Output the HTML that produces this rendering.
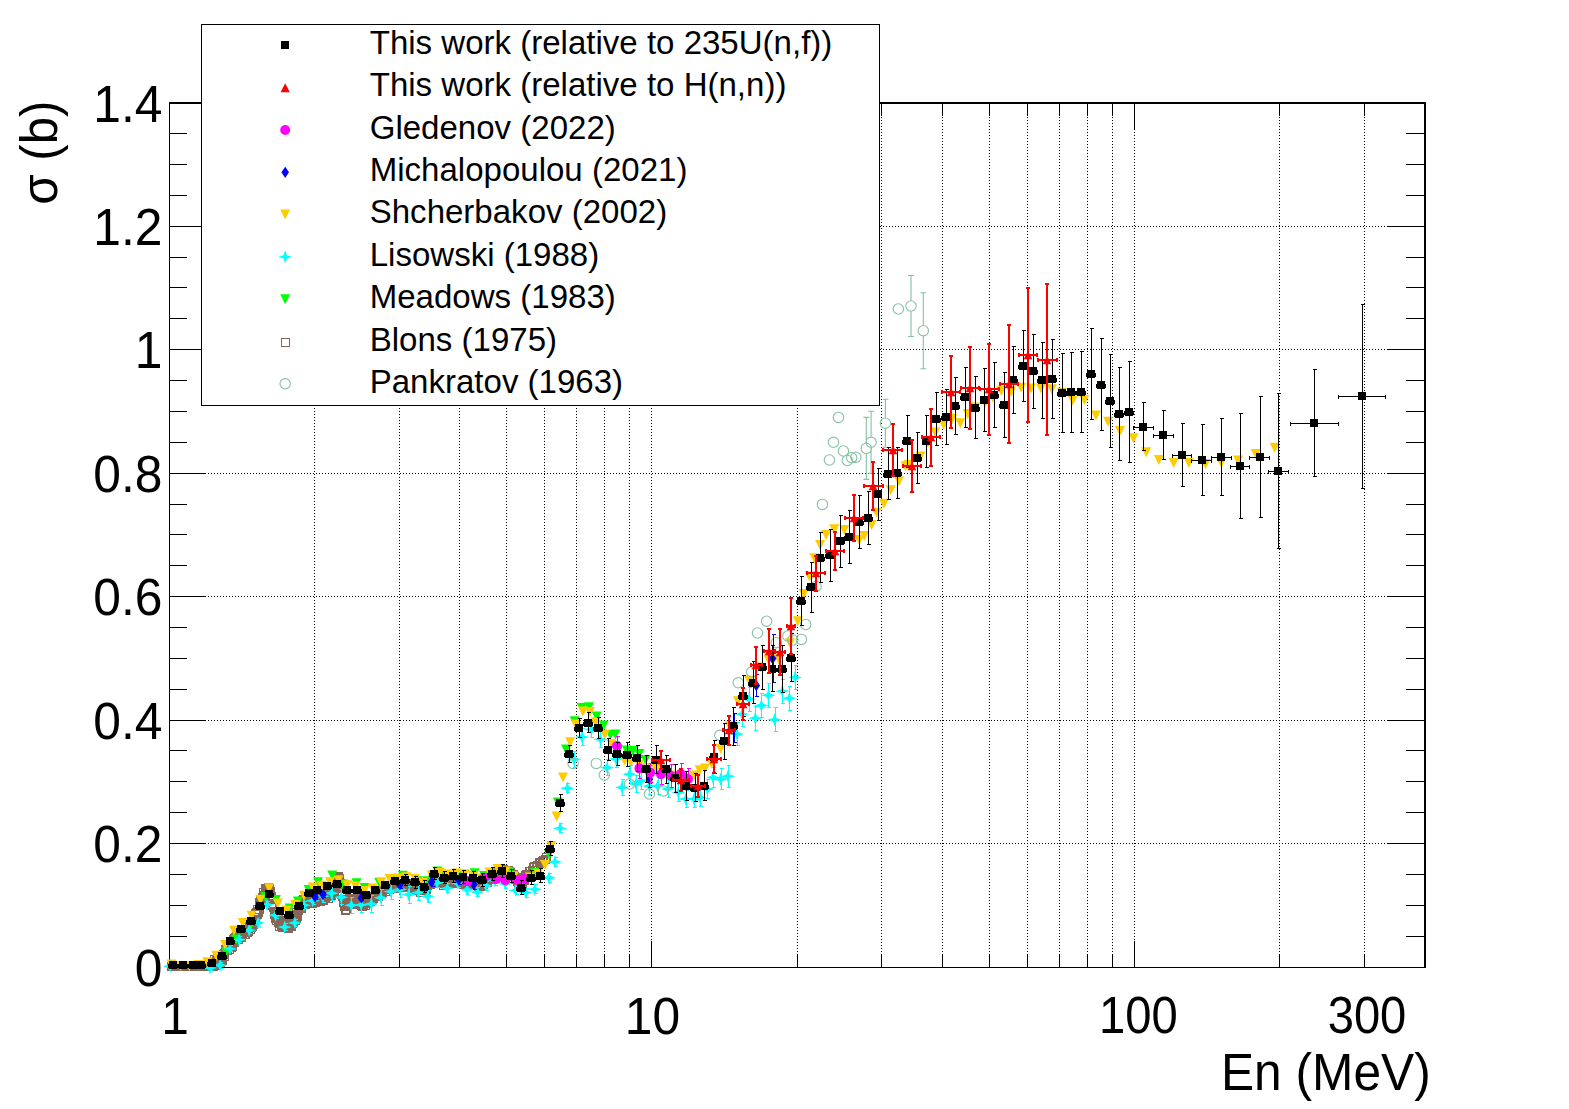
<!DOCTYPE html>
<html lang="en">
<head>
<meta charset="utf-8">
<title>Fission cross section</title>
<style>html,body{margin:0;padding:0;background:#fff}svg{display:block}</style>
</head>
<body>
<svg width="1569" height="1109" viewBox="0 0 1569 1109">
<rect width="1569" height="1109" fill="#fff"/>
<path d="M314.5 102V967M399.5 102V967M459.5 102V967M506.5 102V967M544.5 102V967M576.5 102V967M604.5 102V967M629.5 102V967M651.5 102V967M797.5 102V967M881.5 102V967M942.5 102V967M989.5 102V967M1027.5 102V967M1059.5 102V967M1087.5 102V967M1112.5 102V967M1134.5 102V967M1279.5 102V967M1364.5 102V967M169 843.5H1424M169 720.5H1424M169 596.5H1424M169 473.5H1424M169 349.5H1424M169 226.5H1424" stroke="#000" stroke-width="1" stroke-dasharray="1 2" fill="none" shape-rendering="crispEdges"/>
<path d="M169 967.5H206M1387 967.5H1426M169 936.5H187M1406 936.5H1426M169 905.5H187M1406 905.5H1426M169 874.5H187M1406 874.5H1426M169 843.5H206M1387 843.5H1426M169 812.5H187M1406 812.5H1426M169 781.5H187M1406 781.5H1426M169 750.5H187M1406 750.5H1426M169 720.5H206M1387 720.5H1426M169 689.5H187M1406 689.5H1426M169 658.5H187M1406 658.5H1426M169 627.5H187M1406 627.5H1426M169 596.5H206M1387 596.5H1426M169 565.5H187M1406 565.5H1426M169 534.5H187M1406 534.5H1426M169 504.5H187M1406 504.5H1426M169 473.5H206M1387 473.5H1426M169 442.5H187M1406 442.5H1426M169 411.5H187M1406 411.5H1426M169 380.5H187M1406 380.5H1426M169 349.5H206M1387 349.5H1426M169 318.5H187M1406 318.5H1426M169 287.5H187M1406 287.5H1426M169 257.5H187M1406 257.5H1426M169 226.5H206M1387 226.5H1426M169 195.5H187M1406 195.5H1426M169 164.5H187M1406 164.5H1426M169 133.5H187M1406 133.5H1426M169 102.5H206M1387 102.5H1426M314.5 968V954M314.5 102V116M399.5 968V954M399.5 102V116M459.5 968V954M459.5 102V116M506.5 968V954M506.5 102V116M544.5 968V954M544.5 102V116M576.5 968V954M576.5 102V116M604.5 968V954M604.5 102V116M629.5 968V954M629.5 102V116M651.5 968V941M651.5 102V129M797.5 968V954M797.5 102V116M881.5 968V954M881.5 102V116M942.5 968V954M942.5 102V116M989.5 968V954M989.5 102V116M1027.5 968V954M1027.5 102V116M1059.5 968V954M1059.5 102V116M1087.5 968V954M1087.5 102V116M1112.5 968V954M1112.5 102V116M1134.5 968V941M1134.5 102V129M1279.5 968V954M1279.5 102V116M1364.5 968V954M1364.5 102V116" stroke="#000" stroke-width="1" fill="none" shape-rendering="crispEdges"/>
<path d="M169 102H1426V968H169z M170 104V967H1424V104z" fill="#000" fill-rule="evenodd" shape-rendering="crispEdges"/>
<g>
<path d="M167.5 962.5h8v8h-8zM168.5 962.5h8v8h-8zM168.5 962.5h8v8h-8zM169.5 962.5h8v8h-8zM169.5 962.5h8v8h-8zM170.5 962.5h8v8h-8zM171.5 962.5h8v8h-8zM171.5 962.5h8v8h-8zM172.5 962.5h8v8h-8zM173.5 962.5h8v8h-8zM173.5 962.5h8v8h-8zM174.5 962.5h8v8h-8zM174.5 962.5h8v8h-8zM175.5 962.5h8v8h-8zM176.5 962.5h8v8h-8zM176.5 962.5h8v8h-8zM177.5 962.5h8v8h-8zM178.5 962.5h8v8h-8zM178.5 962.5h8v8h-8zM179.5 962.5h8v8h-8zM179.5 962.5h8v8h-8zM180.5 962.5h8v8h-8zM181.5 962.5h8v8h-8zM181.5 962.5h8v8h-8zM182.5 962.5h8v8h-8zM183.5 962.5h8v8h-8zM183.5 962.5h8v8h-8zM184.5 962.5h8v8h-8zM184.5 962.5h8v8h-8zM185.5 962.5h8v8h-8zM186.5 962.5h8v8h-8zM186.5 962.5h8v8h-8zM187.5 962.5h8v8h-8zM187.5 962.5h8v8h-8zM188.5 962.5h8v8h-8zM189.5 962.5h8v8h-8zM189.5 962.5h8v8h-8zM190.5 962.5h8v8h-8zM191.5 962.5h8v8h-8zM191.5 962.5h8v8h-8zM192.5 962.5h8v8h-8zM192.5 962.5h8v8h-8zM193.5 962.5h8v8h-8zM194.5 962.5h8v8h-8zM194.5 962.5h8v8h-8zM195.5 962.5h8v8h-8zM196.5 962.5h8v8h-8zM196.5 962.5h8v8h-8zM197.5 962.5h8v8h-8zM197.5 962.5h8v8h-8zM198.5 962.5h8v8h-8zM199.5 962.5h8v8h-8zM199.5 962.5h8v8h-8zM200.5 962.5h8v8h-8zM200.5 961.5h8v8h-8zM201.5 961.5h8v8h-8zM202.5 961.5h8v8h-8zM202.5 961.5h8v8h-8zM203.5 961.5h8v8h-8zM204.5 961.5h8v8h-8zM204.5 961.5h8v8h-8zM205.5 960.5h8v8h-8zM205.5 961.5h8v8h-8zM206.5 960.5h8v8h-8zM207.5 960.5h8v8h-8zM207.5 960.5h8v8h-8zM208.5 959.5h8v8h-8zM209.5 962.5h8v8h-8zM209.5 958.5h8v8h-8zM209.5 960.5h8v8h-8zM210.5 955.5h8v8h-8zM210.5 959.5h8v8h-8zM210.5 959.5h8v8h-8zM211.5 961.5h8v8h-8zM211.5 960.5h8v8h-8zM212.5 956.5h8v8h-8zM212.5 956.5h8v8h-8zM212.5 958.5h8v8h-8zM213.5 953.5h8v8h-8zM213.5 956.5h8v8h-8zM213.5 954.5h8v8h-8zM214.5 953.5h8v8h-8zM214.5 953.5h8v8h-8zM215.5 958.5h8v8h-8zM215.5 953.5h8v8h-8zM215.5 953.5h8v8h-8zM216.5 954.5h8v8h-8zM216.5 958.5h8v8h-8zM217.5 952.5h8v8h-8zM217.5 954.5h8v8h-8zM217.5 954.5h8v8h-8zM218.5 956.5h8v8h-8zM218.5 955.5h8v8h-8zM218.5 954.5h8v8h-8zM219.5 950.5h8v8h-8zM219.5 950.5h8v8h-8zM220.5 949.5h8v8h-8zM220.5 952.5h8v8h-8zM220.5 952.5h8v8h-8zM221.5 946.5h8v8h-8zM221.5 945.5h8v8h-8zM221.5 945.5h8v8h-8zM222.5 945.5h8v8h-8zM222.5 946.5h8v8h-8zM223.5 946.5h8v8h-8zM223.5 943.5h8v8h-8zM223.5 941.5h8v8h-8zM224.5 943.5h8v8h-8zM224.5 942.5h8v8h-8zM225.5 943.5h8v8h-8zM225.5 945.5h8v8h-8zM225.5 943.5h8v8h-8zM226.5 942.5h8v8h-8zM226.5 942.5h8v8h-8zM226.5 942.5h8v8h-8zM227.5 937.5h8v8h-8zM227.5 943.5h8v8h-8zM228.5 942.5h8v8h-8zM228.5 942.5h8v8h-8zM228.5 941.5h8v8h-8zM229.5 938.5h8v8h-8zM229.5 937.5h8v8h-8zM229.5 935.5h8v8h-8zM230.5 938.5h8v8h-8zM230.5 934.5h8v8h-8zM231.5 933.5h8v8h-8zM231.5 934.5h8v8h-8zM231.5 933.5h8v8h-8zM232.5 934.5h8v8h-8zM232.5 932.5h8v8h-8zM232.5 931.5h8v8h-8zM233.5 931.5h8v8h-8zM233.5 931.5h8v8h-8zM234.5 932.5h8v8h-8zM234.5 929.5h8v8h-8zM234.5 935.5h8v8h-8zM235.5 933.5h8v8h-8zM235.5 929.5h8v8h-8zM236.5 929.5h8v8h-8zM236.5 930.5h8v8h-8zM236.5 930.5h8v8h-8zM237.5 928.5h8v8h-8zM237.5 932.5h8v8h-8zM237.5 933.5h8v8h-8zM238.5 929.5h8v8h-8zM238.5 929.5h8v8h-8zM239.5 926.5h8v8h-8zM239.5 926.5h8v8h-8zM239.5 927.5h8v8h-8zM240.5 926.5h8v8h-8zM240.5 930.5h8v8h-8zM240.5 925.5h8v8h-8zM241.5 923.5h8v8h-8zM241.5 930.5h8v8h-8zM242.5 927.5h8v8h-8zM242.5 923.5h8v8h-8zM242.5 926.5h8v8h-8zM243.5 922.5h8v8h-8zM243.5 925.5h8v8h-8zM243.5 928.5h8v8h-8zM244.5 927.5h8v8h-8zM244.5 926.5h8v8h-8zM245.5 922.5h8v8h-8zM245.5 923.5h8v8h-8zM245.5 921.5h8v8h-8zM246.5 925.5h8v8h-8zM246.5 922.5h8v8h-8zM247.5 923.5h8v8h-8zM247.5 919.5h8v8h-8zM247.5 918.5h8v8h-8zM248.5 922.5h8v8h-8zM248.5 922.5h8v8h-8zM248.5 921.5h8v8h-8zM249.5 920.5h8v8h-8zM249.5 919.5h8v8h-8zM250.5 918.5h8v8h-8zM250.5 913.5h8v8h-8zM250.5 915.5h8v8h-8zM251.5 913.5h8v8h-8zM251.5 910.5h8v8h-8zM251.5 909.5h8v8h-8zM252.5 909.5h8v8h-8zM252.5 908.5h8v8h-8zM253.5 910.5h8v8h-8zM253.5 910.5h8v8h-8zM253.5 905.5h8v8h-8zM254.5 908.5h8v8h-8zM254.5 907.5h8v8h-8zM255.5 905.5h8v8h-8zM255.5 900.5h8v8h-8zM255.5 898.5h8v8h-8zM256.5 897.5h8v8h-8zM256.5 895.5h8v8h-8zM256.5 895.5h8v8h-8zM257.5 897.5h8v8h-8zM257.5 898.5h8v8h-8zM258.5 897.5h8v8h-8zM258.5 893.5h8v8h-8zM258.5 894.5h8v8h-8zM259.5 894.5h8v8h-8zM259.5 888.5h8v8h-8zM259.5 891.5h8v8h-8zM260.5 892.5h8v8h-8zM260.5 891.5h8v8h-8zM261.5 890.5h8v8h-8zM261.5 887.5h8v8h-8zM261.5 884.5h8v8h-8zM262.5 888.5h8v8h-8zM262.5 884.5h8v8h-8zM262.5 887.5h8v8h-8zM263.5 888.5h8v8h-8zM263.5 884.5h8v8h-8zM264.5 883.5h8v8h-8zM264.5 887.5h8v8h-8zM264.5 887.5h8v8h-8zM265.5 884.5h8v8h-8zM265.5 885.5h8v8h-8zM266.5 887.5h8v8h-8zM266.5 894.5h8v8h-8zM266.5 895.5h8v8h-8zM267.5 892.5h8v8h-8zM267.5 899.5h8v8h-8zM267.5 901.5h8v8h-8zM268.5 901.5h8v8h-8zM268.5 900.5h8v8h-8zM269.5 903.5h8v8h-8zM269.5 901.5h8v8h-8zM269.5 902.5h8v8h-8zM270.5 910.5h8v8h-8zM270.5 909.5h8v8h-8zM270.5 910.5h8v8h-8zM271.5 914.5h8v8h-8zM271.5 912.5h8v8h-8zM272.5 916.5h8v8h-8zM272.5 916.5h8v8h-8zM272.5 912.5h8v8h-8zM273.5 913.5h8v8h-8zM273.5 914.5h8v8h-8zM274.5 915.5h8v8h-8zM274.5 918.5h8v8h-8zM274.5 916.5h8v8h-8zM275.5 918.5h8v8h-8zM275.5 916.5h8v8h-8zM275.5 922.5h8v8h-8zM276.5 918.5h8v8h-8zM276.5 919.5h8v8h-8zM277.5 920.5h8v8h-8zM277.5 922.5h8v8h-8zM277.5 919.5h8v8h-8zM278.5 923.5h8v8h-8zM278.5 920.5h8v8h-8zM278.5 920.5h8v8h-8zM279.5 921.5h8v8h-8zM279.5 917.5h8v8h-8zM280.5 920.5h8v8h-8zM280.5 919.5h8v8h-8zM280.5 918.5h8v8h-8zM281.5 923.5h8v8h-8zM281.5 919.5h8v8h-8zM281.5 921.5h8v8h-8zM282.5 923.5h8v8h-8zM282.5 922.5h8v8h-8zM283.5 921.5h8v8h-8zM283.5 922.5h8v8h-8zM283.5 923.5h8v8h-8zM284.5 924.5h8v8h-8zM284.5 919.5h8v8h-8zM285.5 922.5h8v8h-8zM285.5 919.5h8v8h-8zM285.5 919.5h8v8h-8zM286.5 922.5h8v8h-8zM286.5 920.5h8v8h-8zM286.5 920.5h8v8h-8zM287.5 921.5h8v8h-8zM287.5 922.5h8v8h-8zM288.5 918.5h8v8h-8zM288.5 919.5h8v8h-8zM288.5 918.5h8v8h-8zM289.5 917.5h8v8h-8zM289.5 918.5h8v8h-8zM289.5 915.5h8v8h-8zM290.5 915.5h8v8h-8zM290.5 914.5h8v8h-8zM291.5 916.5h8v8h-8zM291.5 914.5h8v8h-8zM291.5 914.5h8v8h-8zM292.5 914.5h8v8h-8zM292.5 908.5h8v8h-8zM293.5 910.5h8v8h-8zM293.5 912.5h8v8h-8zM293.5 911.5h8v8h-8zM294.5 905.5h8v8h-8zM294.5 904.5h8v8h-8zM294.5 906.5h8v8h-8zM295.5 902.5h8v8h-8zM295.5 903.5h8v8h-8zM296.5 901.5h8v8h-8zM296.5 904.5h8v8h-8zM296.5 904.5h8v8h-8zM297.5 904.5h8v8h-8zM297.5 898.5h8v8h-8zM297.5 902.5h8v8h-8zM298.5 900.5h8v8h-8zM298.5 896.5h8v8h-8zM299.5 900.5h8v8h-8zM299.5 900.5h8v8h-8zM299.5 895.5h8v8h-8zM300.5 900.5h8v8h-8zM300.5 896.5h8v8h-8zM300.5 896.5h8v8h-8zM301.5 900.5h8v8h-8zM301.5 898.5h8v8h-8zM302.5 893.5h8v8h-8zM302.5 895.5h8v8h-8zM302.5 896.5h8v8h-8zM303.5 894.5h8v8h-8zM303.5 893.5h8v8h-8zM304.5 894.5h8v8h-8zM304.5 897.5h8v8h-8zM304.5 892.5h8v8h-8zM305.5 896.5h8v8h-8zM305.5 895.5h8v8h-8zM305.5 893.5h8v8h-8zM306.5 895.5h8v8h-8zM306.5 897.5h8v8h-8zM307.5 896.5h8v8h-8zM307.5 893.5h8v8h-8zM307.5 899.5h8v8h-8zM308.5 898.5h8v8h-8zM308.5 899.5h8v8h-8zM308.5 893.5h8v8h-8zM309.5 894.5h8v8h-8zM309.5 892.5h8v8h-8zM310.5 897.5h8v8h-8zM310.5 893.5h8v8h-8zM310.5 892.5h8v8h-8zM311.5 894.5h8v8h-8zM311.5 898.5h8v8h-8zM312.5 897.5h8v8h-8zM312.5 893.5h8v8h-8zM312.5 892.5h8v8h-8zM313.5 897.5h8v8h-8zM313.5 895.5h8v8h-8zM313.5 896.5h8v8h-8zM314.5 891.5h8v8h-8zM314.5 891.5h8v8h-8zM315.5 895.5h8v8h-8zM315.5 893.5h8v8h-8zM315.5 891.5h8v8h-8zM316.5 897.5h8v8h-8zM316.5 894.5h8v8h-8zM316.5 896.5h8v8h-8zM317.5 890.5h8v8h-8zM317.5 896.5h8v8h-8zM318.5 890.5h8v8h-8zM318.5 896.5h8v8h-8zM318.5 893.5h8v8h-8zM319.5 892.5h8v8h-8zM319.5 893.5h8v8h-8zM319.5 896.5h8v8h-8zM320.5 891.5h8v8h-8zM320.5 890.5h8v8h-8zM321.5 893.5h8v8h-8zM321.5 891.5h8v8h-8zM321.5 889.5h8v8h-8zM322.5 890.5h8v8h-8zM322.5 889.5h8v8h-8zM323.5 890.5h8v8h-8zM323.5 891.5h8v8h-8zM323.5 891.5h8v8h-8zM324.5 894.5h8v8h-8zM324.5 891.5h8v8h-8zM324.5 892.5h8v8h-8zM325.5 890.5h8v8h-8zM325.5 891.5h8v8h-8zM326.5 888.5h8v8h-8zM326.5 890.5h8v8h-8zM326.5 887.5h8v8h-8zM327.5 891.5h8v8h-8zM327.5 889.5h8v8h-8zM327.5 885.5h8v8h-8zM328.5 886.5h8v8h-8zM328.5 888.5h8v8h-8zM329.5 881.5h8v8h-8zM329.5 885.5h8v8h-8zM329.5 881.5h8v8h-8zM330.5 881.5h8v8h-8zM330.5 882.5h8v8h-8zM331.5 878.5h8v8h-8zM331.5 878.5h8v8h-8zM331.5 879.5h8v8h-8zM332.5 881.5h8v8h-8zM332.5 876.5h8v8h-8zM332.5 879.5h8v8h-8zM333.5 877.5h8v8h-8zM333.5 876.5h8v8h-8zM334.5 874.5h8v8h-8zM334.5 873.5h8v8h-8zM334.5 872.5h8v8h-8zM335.5 874.5h8v8h-8zM335.5 875.5h8v8h-8zM335.5 881.5h8v8h-8zM336.5 879.5h8v8h-8zM336.5 880.5h8v8h-8zM337.5 881.5h8v8h-8zM337.5 888.5h8v8h-8zM337.5 890.5h8v8h-8zM338.5 891.5h8v8h-8zM338.5 890.5h8v8h-8zM338.5 892.5h8v8h-8zM339.5 895.5h8v8h-8zM339.5 898.5h8v8h-8zM340.5 898.5h8v8h-8zM340.5 902.5h8v8h-8zM340.5 901.5h8v8h-8zM341.5 906.5h8v8h-8zM341.5 906.5h8v8h-8zM342.5 902.5h8v8h-8zM342.5 900.5h8v8h-8zM342.5 905.5h8v8h-8zM343.5 900.5h8v8h-8zM343.5 900.5h8v8h-8zM343.5 897.5h8v8h-8zM344.5 899.5h8v8h-8zM344.5 899.5h8v8h-8zM345.5 899.5h8v8h-8zM345.5 896.5h8v8h-8zM345.5 898.5h8v8h-8zM346.5 894.5h8v8h-8zM346.5 896.5h8v8h-8zM346.5 895.5h8v8h-8zM347.5 897.5h8v8h-8zM347.5 894.5h8v8h-8zM348.5 894.5h8v8h-8zM348.5 896.5h8v8h-8zM348.5 895.5h8v8h-8zM349.5 898.5h8v8h-8zM349.5 897.5h8v8h-8zM350.5 899.5h8v8h-8zM350.5 898.5h8v8h-8zM350.5 898.5h8v8h-8zM351.5 899.5h8v8h-8zM351.5 896.5h8v8h-8zM351.5 895.5h8v8h-8zM352.5 900.5h8v8h-8zM352.5 894.5h8v8h-8zM353.5 899.5h8v8h-8zM353.5 898.5h8v8h-8zM353.5 894.5h8v8h-8zM354.5 900.5h8v8h-8zM354.5 900.5h8v8h-8zM354.5 899.5h8v8h-8zM355.5 900.5h8v8h-8zM355.5 900.5h8v8h-8zM356.5 896.5h8v8h-8zM356.5 898.5h8v8h-8zM356.5 899.5h8v8h-8zM357.5 901.5h8v8h-8zM357.5 901.5h8v8h-8zM357.5 901.5h8v8h-8zM358.5 900.5h8v8h-8zM358.5 902.5h8v8h-8zM359.5 901.5h8v8h-8zM359.5 901.5h8v8h-8zM359.5 898.5h8v8h-8zM360.5 896.5h8v8h-8zM360.5 897.5h8v8h-8zM361.5 899.5h8v8h-8zM361.5 897.5h8v8h-8zM361.5 901.5h8v8h-8zM362.5 899.5h8v8h-8zM363.5 899.5h8v8h-8zM363.5 899.5h8v8h-8zM364.5 898.5h8v8h-8zM364.5 897.5h8v8h-8zM365.5 894.5h8v8h-8zM366.5 897.5h8v8h-8zM366.5 897.5h8v8h-8zM367.5 895.5h8v8h-8zM367.5 895.5h8v8h-8zM368.5 895.5h8v8h-8zM369.5 892.5h8v8h-8zM369.5 894.5h8v8h-8zM370.5 892.5h8v8h-8zM371.5 890.5h8v8h-8zM371.5 891.5h8v8h-8zM372.5 892.5h8v8h-8zM372.5 890.5h8v8h-8zM373.5 892.5h8v8h-8zM374.5 892.5h8v8h-8zM374.5 890.5h8v8h-8zM375.5 889.5h8v8h-8zM376.5 889.5h8v8h-8zM376.5 889.5h8v8h-8zM377.5 889.5h8v8h-8zM377.5 888.5h8v8h-8zM378.5 888.5h8v8h-8zM379.5 885.5h8v8h-8zM379.5 885.5h8v8h-8zM380.5 885.5h8v8h-8zM381.5 887.5h8v8h-8zM381.5 884.5h8v8h-8zM382.5 885.5h8v8h-8zM382.5 883.5h8v8h-8zM383.5 882.5h8v8h-8zM384.5 883.5h8v8h-8zM384.5 885.5h8v8h-8zM385.5 885.5h8v8h-8zM385.5 884.5h8v8h-8zM386.5 882.5h8v8h-8zM387.5 883.5h8v8h-8zM387.5 883.5h8v8h-8zM388.5 882.5h8v8h-8zM389.5 881.5h8v8h-8zM389.5 884.5h8v8h-8zM390.5 880.5h8v8h-8zM390.5 884.5h8v8h-8zM391.5 883.5h8v8h-8zM392.5 879.5h8v8h-8zM392.5 881.5h8v8h-8zM393.5 883.5h8v8h-8zM394.5 883.5h8v8h-8zM394.5 881.5h8v8h-8zM395.5 880.5h8v8h-8zM395.5 880.5h8v8h-8zM396.5 883.5h8v8h-8zM397.5 880.5h8v8h-8zM397.5 881.5h8v8h-8zM398.5 879.5h8v8h-8zM398.5 881.5h8v8h-8zM399.5 882.5h8v8h-8zM400.5 879.5h8v8h-8zM400.5 882.5h8v8h-8zM401.5 881.5h8v8h-8zM402.5 883.5h8v8h-8zM402.5 882.5h8v8h-8zM403.5 880.5h8v8h-8zM403.5 883.5h8v8h-8zM404.5 881.5h8v8h-8zM405.5 879.5h8v8h-8zM405.5 880.5h8v8h-8zM406.5 882.5h8v8h-8zM407.5 882.5h8v8h-8zM407.5 881.5h8v8h-8zM408.5 881.5h8v8h-8zM408.5 882.5h8v8h-8zM409.5 882.5h8v8h-8zM410.5 884.5h8v8h-8zM410.5 881.5h8v8h-8zM411.5 884.5h8v8h-8zM412.5 885.5h8v8h-8zM412.5 882.5h8v8h-8zM413.5 886.5h8v8h-8zM413.5 885.5h8v8h-8zM414.5 886.5h8v8h-8zM415.5 884.5h8v8h-8zM415.5 884.5h8v8h-8zM416.5 885.5h8v8h-8zM416.5 888.5h8v8h-8zM417.5 886.5h8v8h-8zM418.5 886.5h8v8h-8zM418.5 886.5h8v8h-8zM419.5 886.5h8v8h-8zM420.5 884.5h8v8h-8zM420.5 883.5h8v8h-8zM421.5 886.5h8v8h-8zM421.5 883.5h8v8h-8zM422.5 885.5h8v8h-8zM423.5 881.5h8v8h-8zM423.5 880.5h8v8h-8zM424.5 880.5h8v8h-8zM425.5 878.5h8v8h-8zM425.5 878.5h8v8h-8zM426.5 880.5h8v8h-8zM426.5 879.5h8v8h-8zM427.5 878.5h8v8h-8zM428.5 876.5h8v8h-8zM428.5 877.5h8v8h-8zM429.5 877.5h8v8h-8zM429.5 875.5h8v8h-8zM430.5 876.5h8v8h-8zM431.5 874.5h8v8h-8zM431.5 877.5h8v8h-8zM432.5 876.5h8v8h-8zM433.5 877.5h8v8h-8zM433.5 877.5h8v8h-8zM434.5 876.5h8v8h-8zM434.5 875.5h8v8h-8zM435.5 879.5h8v8h-8zM436.5 876.5h8v8h-8zM436.5 878.5h8v8h-8zM437.5 877.5h8v8h-8zM438.5 877.5h8v8h-8zM438.5 879.5h8v8h-8zM439.5 881.5h8v8h-8zM439.5 877.5h8v8h-8zM440.5 879.5h8v8h-8zM441.5 877.5h8v8h-8zM441.5 878.5h8v8h-8zM442.5 878.5h8v8h-8zM443.5 876.5h8v8h-8zM443.5 876.5h8v8h-8zM444.5 876.5h8v8h-8zM444.5 879.5h8v8h-8zM445.5 878.5h8v8h-8zM446.5 876.5h8v8h-8zM446.5 879.5h8v8h-8zM447.5 879.5h8v8h-8zM447.5 877.5h8v8h-8zM448.5 876.5h8v8h-8zM449.5 876.5h8v8h-8zM449.5 876.5h8v8h-8zM450.5 877.5h8v8h-8zM451.5 876.5h8v8h-8zM451.5 876.5h8v8h-8zM452.5 876.5h8v8h-8zM452.5 878.5h8v8h-8zM453.5 879.5h8v8h-8zM454.5 879.5h8v8h-8zM454.5 877.5h8v8h-8zM455.5 877.5h8v8h-8zM456.5 878.5h8v8h-8zM456.5 877.5h8v8h-8zM457.5 877.5h8v8h-8zM457.5 876.5h8v8h-8zM458.5 877.5h8v8h-8zM459.5 880.5h8v8h-8zM459.5 876.5h8v8h-8zM460.5 878.5h8v8h-8zM460.5 879.5h8v8h-8zM461.5 880.5h8v8h-8zM462.5 877.5h8v8h-8zM462.5 877.5h8v8h-8zM463.5 877.5h8v8h-8zM464.5 878.5h8v8h-8zM464.5 878.5h8v8h-8zM465.5 880.5h8v8h-8zM465.5 880.5h8v8h-8zM466.5 880.5h8v8h-8zM467.5 876.5h8v8h-8zM467.5 876.5h8v8h-8zM468.5 880.5h8v8h-8zM469.5 881.5h8v8h-8zM469.5 879.5h8v8h-8zM470.5 879.5h8v8h-8zM470.5 877.5h8v8h-8zM471.5 879.5h8v8h-8zM472.5 881.5h8v8h-8zM472.5 881.5h8v8h-8zM473.5 881.5h8v8h-8zM474.5 882.5h8v8h-8zM474.5 879.5h8v8h-8zM475.5 878.5h8v8h-8zM475.5 879.5h8v8h-8zM476.5 880.5h8v8h-8zM477.5 881.5h8v8h-8zM477.5 882.5h8v8h-8zM478.5 880.5h8v8h-8zM478.5 880.5h8v8h-8zM479.5 880.5h8v8h-8zM480.5 878.5h8v8h-8zM480.5 878.5h8v8h-8zM481.5 875.5h8v8h-8zM482.5 878.5h8v8h-8zM482.5 875.5h8v8h-8zM483.5 878.5h8v8h-8zM483.5 876.5h8v8h-8zM484.5 874.5h8v8h-8zM485.5 873.5h8v8h-8zM485.5 873.5h8v8h-8zM486.5 875.5h8v8h-8zM487.5 874.5h8v8h-8zM487.5 871.5h8v8h-8zM488.5 871.5h8v8h-8zM488.5 872.5h8v8h-8zM489.5 872.5h8v8h-8zM490.5 871.5h8v8h-8zM490.5 870.5h8v8h-8zM491.5 871.5h8v8h-8zM491.5 868.5h8v8h-8zM492.5 869.5h8v8h-8zM493.5 869.5h8v8h-8zM493.5 871.5h8v8h-8zM494.5 869.5h8v8h-8zM495.5 870.5h8v8h-8zM495.5 868.5h8v8h-8zM496.5 866.5h8v8h-8zM496.5 866.5h8v8h-8zM497.5 869.5h8v8h-8zM498.5 868.5h8v8h-8zM498.5 867.5h8v8h-8zM499.5 865.5h8v8h-8zM500.5 868.5h8v8h-8zM500.5 868.5h8v8h-8zM501.5 867.5h8v8h-8zM501.5 867.5h8v8h-8zM502.5 869.5h8v8h-8zM503.5 870.5h8v8h-8zM503.5 867.5h8v8h-8zM504.5 866.5h8v8h-8zM505.5 867.5h8v8h-8zM505.5 868.5h8v8h-8zM506.5 869.5h8v8h-8zM506.5 868.5h8v8h-8zM507.5 871.5h8v8h-8zM508.5 871.5h8v8h-8zM508.5 870.5h8v8h-8zM509.5 870.5h8v8h-8zM509.5 874.5h8v8h-8zM510.5 872.5h8v8h-8zM511.5 875.5h8v8h-8zM511.5 873.5h8v8h-8zM512.5 873.5h8v8h-8zM513.5 877.5h8v8h-8zM513.5 875.5h8v8h-8zM514.5 879.5h8v8h-8zM514.5 878.5h8v8h-8zM515.5 877.5h8v8h-8zM516.5 877.5h8v8h-8zM516.5 878.5h8v8h-8zM517.5 878.5h8v8h-8zM518.5 879.5h8v8h-8zM518.5 875.5h8v8h-8zM519.5 875.5h8v8h-8zM519.5 874.5h8v8h-8zM520.5 876.5h8v8h-8zM521.5 872.5h8v8h-8zM521.5 871.5h8v8h-8zM522.5 870.5h8v8h-8zM522.5 871.5h8v8h-8zM523.5 873.5h8v8h-8zM524.5 872.5h8v8h-8zM525.5 867.5h8v8h-8zM526.5 867.5h8v8h-8zM528.5 866.5h8v8h-8zM529.5 863.5h8v8h-8zM530.5 862.5h8v8h-8zM532.5 862.5h8v8h-8zM533.5 861.5h8v8h-8zM535.5 858.5h8v8h-8zM536.5 859.5h8v8h-8zM538.5 857.5h8v8h-8zM539.5 856.5h8v8h-8zM541.5 855.5h8v8h-8zM542.5 853.5h8v8h-8z" fill="none" stroke="#876657" stroke-width="1" shape-rendering="crispEdges"/>
<path d="M221 946.9h10l-5 10zM231 934.5h10l-5 10zM245.6 920.3h10l-5 10zM260.4 891.9h10l-5 10zM270.9 895h10l-5 10zM284.6 903.4h10l-5 10zM293 896.5h10l-5 10zM303.6 884.9h10l-5 10zM313 877.2h10l-5 10zM327.2 870.6h10l-5 10zM338.1 879.4h10l-5 10zM351.5 878.2h10l-5 10zM359.7 883h10l-5 10zM374.2 877.8h10l-5 10zM387.4 875.6h10l-5 10zM397.8 870.8h10l-5 10zM412.5 876.2h10l-5 10zM422.3 876.2h10l-5 10zM432.5 866.6h10l-5 10zM440.5 871.2h10l-5 10zM455 870.1h10l-5 10zM469.6 868.2h10l-5 10zM479.2 871h10l-5 10zM493.9 866.9h10l-5 10zM504.6 866.9h10l-5 10zM515.6 880h10l-5 10zM530.1 868h10l-5 10zM544.1 849.7h10l-5 10zM552.8 797.4h10l-5 10zM561 744.4h10l-5 10zM569.7 716.3h10l-5 10zM576.8 703h10l-5 10zM584 702.2h10l-5 10zM591.6 711.4h10l-5 10zM598.7 720.4h10l-5 10zM605.4 730h10l-5 10zM610.5 729.6h10l-5 10zM621.7 745.4h10l-5 10zM627.8 745.9h10l-5 10zM634.4 749h10l-5 10zM640.5 755h10l-5 10z" fill="#00ff00"/>
<path d="M166.5 959.4h10l-5 10zM175.5 961h10l-5 10zM184.5 961.1h10l-5 10zM193.4 959.9h10l-5 10zM202.3 957.2h10l-5 10zM211.2 950.7h10l-5 10zM220.1 940h10l-5 10zM229 925.8h10l-5 10zM237.8 918.1h10l-5 10zM246.6 910.8h10l-5 10zM255.4 894.8h10l-5 10zM264.2 883.3h10l-5 10zM272.9 898.5h10l-5 10zM281.6 905.8h10l-5 10zM290.3 899.9h10l-5 10zM299 890.7h10l-5 10zM307.7 882.6h10l-5 10zM316.3 880.8h10l-5 10zM324.9 877.2h10l-5 10zM333.5 875.3h10l-5 10zM342.1 880.3h10l-5 10zM350.6 881.2h10l-5 10zM359.1 886h10l-5 10zM367.6 883.6h10l-5 10zM376.1 877.6h10l-5 10zM384.6 874.1h10l-5 10zM393 873.4h10l-5 10zM401.4 872.2h10l-5 10zM409.8 873.9h10l-5 10zM418.2 877.7h10l-5 10zM426.5 870.6h10l-5 10zM434.9 867.7h10l-5 10zM443.2 869.4h10l-5 10zM451.5 868.4h10l-5 10zM459.7 869.2h10l-5 10zM468 871h10l-5 10zM476.2 873.5h10l-5 10zM484.4 867.4h10l-5 10zM492.6 863.9h10l-5 10zM500.7 866.6h10l-5 10zM508.9 871.2h10l-5 10zM517 877.9h10l-5 10zM525.1 872.5h10l-5 10zM533.2 868.8h10l-5 10zM540 859.9h10l-5 10zM546.2 841h10l-5 10zM551.6 811.5h10l-5 10zM558 772.4h10l-5 10zM565.1 737.2h10l-5 10zM570.7 719.4h10l-5 10zM577.8 706.6h10l-5 10zM585 707.1h10l-5 10zM590.6 717.3h10l-5 10zM599.8 729.6h10l-5 10zM606.4 739.3h10l-5 10zM612.5 747h10l-5 10zM619.6 755.6h10l-5 10zM625.8 757h10l-5 10zM634 760h10l-5 10zM642.5 763h10l-5 10zM651 764h10l-5 10zM661 767h10l-5 10zM671.7 770.4h10l-5 10zM680 773h10l-5 10zM689 770.4h10l-5 10zM694.6 765.3h10l-5 10zM700 763.5h10l-5 10zM706.5 758.5h10l-5 10zM715.6 743.8h10l-5 10zM724.8 721.3h10l-5 10zM732.9 696.3h10l-5 10zM744.1 675.4h10l-5 10zM755.4 662.5h10l-5 10zM763.5 654.8h10l-5 10zM773.7 654.3h10l-5 10zM785 638.2h10l-5 10zM792.8 616.2h10l-5 10zM798.6 588.9h10l-5 10zM804.4 571.5h10l-5 10zM809.3 553.3h10l-5 10zM815.1 540h10l-5 10zM821 530.1h10l-5 10zM829.3 524.3h10l-5 10zM839.3 525.1h10l-5 10zM854.2 535.1h10l-5 10zM859.2 530.9h10l-5 10zM866.6 520.1h10l-5 10zM871.6 507.7h10l-5 10zM879 498.7h10l-5 10zM885.7 485.3h10l-5 10zM894 476.2h10l-5 10zM900.6 461.3h10l-5 10zM903.9 459.7h10l-5 10zM915.5 451.4h10l-5 10zM923 437.7h10l-5 10zM930.4 427.4h10l-5 10zM938.7 419.9h10l-5 10zM947 414.1h10l-5 10zM955.3 418.2h10l-5 10zM962.7 409.1h10l-5 10zM970.6 402.6h10l-5 10zM980 397.7h10l-5 10zM988 392.7h10l-5 10zM996.3 386h10l-5 10zM1006.2 386.8h10l-5 10zM1016.1 382.7h10l-5 10zM1026 383.5h10l-5 10zM1036 383.5h10l-5 10zM1046.8 384.3h10l-5 10zM1056.7 387.7h10l-5 10zM1067.8 395.6h10l-5 10zM1079.4 395.1h10l-5 10zM1091 410.5h10l-5 10zM1103.1 416.7h10l-5 10zM1115 426.1h10l-5 10zM1128.5 433.2h10l-5 10zM1141.2 447.2h10l-5 10zM1153.8 454.9h10l-5 10zM1168.7 458h10l-5 10zM1183.9 458h10l-5 10zM1200.5 459h10l-5 10zM1216.2 457.7h10l-5 10zM1233.1 455.4h10l-5 10zM1250.8 448.9h10l-5 10zM1269.7 442.8h10l-5 10z" fill="#ffcc00"/>
<path d="M170.5 964V968M168.5 964.5h4M168.5 967.5h4M210.5 965V971M208.5 965.5h4M208.5 970.5h4M220.5 962V969M218.5 962.5h4M218.5 968.5h4M230.5 945V952M228.5 945.5h4M228.5 951.5h4M239.5 936V943M237.5 936.5h4M237.5 942.5h4M249.5 927V934M247.5 927.5h4M247.5 933.5h4M258.5 919V927M256.5 919.5h4M256.5 926.5h4M267.5 901V908M265.5 901.5h4M265.5 907.5h4M276.5 911V919M274.5 911.5h4M274.5 918.5h4M285.5 923V931M283.5 923.5h4M283.5 930.5h4M295.5 919V927M293.5 919.5h4M293.5 926.5h4M304.5 901V909M302.5 901.5h4M302.5 908.5h4M313.5 897V905M311.5 897.5h4M311.5 904.5h4M323.5 889V903M321.5 889.5h4M321.5 902.5h4M332.5 885V901M330.5 885.5h4M330.5 900.5h4M341.5 889V905M339.5 889.5h4M339.5 904.5h4M351.5 897V914M349.5 897.5h4M349.5 913.5h4M361.5 896V913M359.5 896.5h4M359.5 912.5h4M371.5 895V913M369.5 895.5h4M369.5 912.5h4M381.5 889V906M379.5 889.5h4M379.5 905.5h4M391.5 883V900M389.5 883.5h4M389.5 899.5h4M400.5 881V898M398.5 881.5h4M398.5 897.5h4M409.5 886V904M407.5 886.5h4M407.5 903.5h4M418.5 885V901M416.5 885.5h4M416.5 900.5h4M428.5 890V903M426.5 890.5h4M426.5 902.5h4M437.5 877V888M435.5 877.5h4M435.5 887.5h4M447.5 883V893M445.5 883.5h4M445.5 892.5h4M458.5 878V888M456.5 878.5h4M456.5 887.5h4M467.5 885V895M465.5 885.5h4M465.5 894.5h4M477.5 887V897M475.5 887.5h4M475.5 896.5h4M486.5 881V891M484.5 881.5h4M484.5 890.5h4M495.5 876V886M493.5 876.5h4M493.5 885.5h4M505.5 879V889M503.5 879.5h4M503.5 888.5h4M516.5 885V895M514.5 885.5h4M514.5 894.5h4M526.5 888V898M524.5 888.5h4M524.5 897.5h4M535.5 884V894M533.5 884.5h4M533.5 893.5h4M549.5 873V883M547.5 873.5h4M547.5 882.5h4M555.5 857V867M553.5 857.5h4M553.5 866.5h4M560.5 823V833M558.5 823.5h4M558.5 832.5h4M567.5 783V793M565.5 783.5h4M565.5 792.5h4M574.5 751V768M572.5 751.5h4M572.5 767.5h4M582.5 728V746M580.5 728.5h4M580.5 745.5h4M591.5 721V738M589.5 721.5h4M589.5 737.5h4M600.5 731V748M598.5 731.5h4M598.5 747.5h4M607.5 759V776M605.5 759.5h4M605.5 775.5h4M616.5 750V768M614.5 750.5h4M614.5 767.5h4M622.5 779V796M620.5 779.5h4M620.5 795.5h4M630.5 765V783M628.5 765.5h4M628.5 782.5h4M636.5 775V793M634.5 775.5h4M634.5 792.5h4M641.5 772V790M639.5 772.5h4M639.5 789.5h4M649.5 777V795M647.5 777.5h4M647.5 794.5h4M658.5 777V795M656.5 777.5h4M656.5 794.5h4M668.5 780V798M666.5 780.5h4M666.5 797.5h4M678.5 783V802M676.5 783.5h4M676.5 801.5h4M686.5 790V808M684.5 790.5h4M684.5 807.5h4M694.5 790V808M692.5 790.5h4M692.5 807.5h4M700.5 788V807M698.5 788.5h4M698.5 806.5h4M707.5 779V799M705.5 779.5h4M705.5 798.5h4M713.5 767V788M711.5 767.5h4M711.5 787.5h4M721.5 768V790M719.5 768.5h4M719.5 789.5h4M728.5 765V788M726.5 765.5h4M726.5 787.5h4M737.5 722V746M735.5 722.5h4M735.5 745.5h4M742.5 702V727M740.5 702.5h4M740.5 726.5h4M749.5 687V712M747.5 687.5h4M747.5 711.5h4M755.5 706V731M753.5 706.5h4M753.5 730.5h4M761.5 693V718M759.5 693.5h4M759.5 717.5h4M768.5 683V708M766.5 683.5h4M766.5 707.5h4M775.5 707V732M773.5 707.5h4M773.5 731.5h4M782.5 679V704M780.5 679.5h4M780.5 703.5h4M789.5 686V711M787.5 686.5h4M787.5 710.5h4M795.5 665V690M793.5 665.5h4M793.5 689.5h4" stroke="#00ffff" stroke-width="1" fill="none" shape-rendering="crispEdges"/>
<path d="M170.1 959.6L171.8 964.6L177.2 966.3L171.8 968L170.1 973L168.4 968L163 966.3L168.4 964.6zM210 961.3L211.7 966.3L217.1 968L211.7 969.7L210 974.7L208.3 969.7L202.9 968L208.3 966.3zM220.1 958.5L221.8 963.5L227.2 965.2L221.8 966.9L220.1 971.9L218.4 966.9L213 965.2L218.4 963.5zM229.9 942.2L231.6 947.2L237 948.9L231.6 950.6L229.9 955.6L228.2 950.6L222.8 948.9L228.2 947.2zM239 933.1L240.7 938.1L246.1 939.8L240.7 941.5L239 946.5L237.3 941.5L231.9 939.8L237.3 938.1zM249.1 923.5L250.8 928.5L256.2 930.2L250.8 931.9L249.1 936.9L247.4 931.9L242 930.2L247.4 928.5zM258 916.2L259.7 921.2L265.1 922.9L259.7 924.6L258 929.6L256.3 924.6L250.9 922.9L256.3 921.2zM267 898.1L268.7 903.1L274.1 904.8L268.7 906.5L267 911.5L265.3 906.5L259.9 904.8L265.3 903.1zM275.5 908.5L277.2 913.5L282.6 915.2L277.2 916.9L275.5 921.9L273.8 916.9L268.4 915.2L273.8 913.5zM284.7 920.4L286.4 925.4L291.8 927.1L286.4 928.8L284.7 933.8L283 928.8L277.6 927.1L283 925.4zM294.9 916.2L296.6 921.2L302 922.9L296.6 924.6L294.9 929.6L293.2 924.6L287.8 922.9L293.2 921.2zM304 898.6L305.7 903.6L311.1 905.3L305.7 907L304 912L302.3 907L296.9 905.3L302.3 903.6zM312.7 894L314.4 899L319.8 900.7L314.4 902.4L312.7 907.4L311 902.4L305.6 900.7L311 899zM322.6 889.5L324.3 894.5L329.7 896.2L324.3 897.9L322.6 902.9L320.9 897.9L315.5 896.2L320.9 894.5zM331.5 886.6L333.2 891.6L338.6 893.3L333.2 895L331.5 900L329.8 895L324.4 893.3L329.8 891.6zM341.3 890.6L343 895.6L348.4 897.3L343 899L341.3 904L339.6 899L334.2 897.3L339.6 895.6zM351.3 898.6L353 903.6L358.4 905.3L353 907L351.3 912L349.6 907L344.2 905.3L349.6 903.6zM361.1 898.2L362.8 903.2L368.2 904.9L362.8 906.6L361.1 911.6L359.4 906.6L354 904.9L359.4 903.2zM371.3 897.3L373 902.3L378.4 904L373 905.7L371.3 910.7L369.6 905.7L364.2 904L369.6 902.3zM380.9 891.1L382.6 896.1L388 897.8L382.6 899.5L380.9 904.5L379.2 899.5L373.8 897.8L379.2 896.1zM390.9 884.9L392.6 889.9L398 891.6L392.6 893.3L390.9 898.3L389.2 893.3L383.8 891.6L389.2 889.9zM399.9 882.8L401.6 887.8L407 889.5L401.6 891.2L399.9 896.2L398.2 891.2L392.8 889.5L398.2 887.8zM408.7 887.8L410.4 892.8L415.8 894.5L410.4 896.2L408.7 901.2L407 896.2L401.6 894.5L407 892.8zM418.4 885.9L420.1 890.9L425.5 892.6L420.1 894.3L418.4 899.3L416.7 894.3L411.3 892.6L416.7 890.9zM427.7 889.5L429.4 894.5L434.8 896.2L429.4 897.9L427.7 902.9L426 897.9L420.6 896.2L426 894.5zM437.2 876.1L438.9 881.1L444.3 882.8L438.9 884.5L437.2 889.5L435.5 884.5L430.1 882.8L435.5 881.1zM447.3 881.5L449 886.5L454.4 888.2L449 889.9L447.3 894.9L445.6 889.9L440.2 888.2L445.6 886.5zM457.8 876.7L459.5 881.7L464.9 883.4L459.5 885.1L457.8 890.1L456.1 885.1L450.7 883.4L456.1 881.7zM467.2 883.1L468.9 888.1L474.3 889.8L468.9 891.5L467.2 896.5L465.5 891.5L460.1 889.8L465.5 888.1zM477.4 885.3L479.1 890.3L484.5 892L479.1 893.7L477.4 898.7L475.7 893.7L470.3 892L475.7 890.3zM486 879L487.7 884L493.1 885.7L487.7 887.4L486 892.4L484.3 887.4L478.9 885.7L484.3 884zM494.7 873.8L496.4 878.8L501.8 880.5L496.4 882.2L494.7 887.2L493 882.2L487.6 880.5L493 878.8zM505.2 877.1L506.9 882.1L512.3 883.8L506.9 885.5L505.2 890.5L503.5 885.5L498.1 883.8L503.5 882.1zM515.5 883.7L517.2 888.7L522.6 890.4L517.2 892.1L515.5 897.1L513.8 892.1L508.4 890.4L513.8 888.7zM525.8 885.9L527.5 890.9L532.9 892.6L527.5 894.3L525.8 899.3L524.1 894.3L518.7 892.6L524.1 890.9zM534.8 882.5L536.5 887.5L541.9 889.2L536.5 890.9L534.8 895.9L533.1 890.9L527.7 889.2L533.1 887.5zM549 871.1L550.7 876.1L556.1 877.8L550.7 879.5L549 884.5L547.3 879.5L541.9 877.8L547.3 876.1zM555 855.3L556.7 860.3L562.1 862L556.7 863.7L555 868.7L553.3 863.7L547.9 862L553.3 860.3zM560 821.7L561.7 826.7L567.1 828.4L561.7 830.1L560 835.1L558.3 830.1L552.9 828.4L558.3 826.7zM567.3 781.6L569 786.6L574.4 788.3L569 790L567.3 795L565.6 790L560.2 788.3L565.6 786.6zM574 752.6L575.7 757.6L581.1 759.3L575.7 761L574 766L572.3 761L566.9 759.3L572.3 757.6zM582 730.3L583.7 735.3L589.1 737L583.7 738.7L582 743.7L580.3 738.7L574.9 737L580.3 735.3zM591.4 722.8L593.1 727.8L598.5 729.5L593.1 731.2L591.4 736.2L589.7 731.2L584.3 729.5L589.7 727.8zM600.5 732.7L602.2 737.7L607.6 739.4L602.2 741.1L600.5 746.1L598.8 741.1L593.4 739.4L598.8 737.7zM607.1 760.9L608.8 765.9L614.2 767.6L608.8 769.3L607.1 774.3L605.4 769.3L600 767.6L605.4 765.9zM616 752.3L617.7 757.3L623.1 759L617.7 760.7L616 765.7L614.3 760.7L608.9 759L614.3 757.3zM622 780.8L623.7 785.8L629.1 787.5L623.7 789.2L622 794.2L620.3 789.2L614.9 787.5L620.3 785.8zM629.5 767.5L631.2 772.5L636.6 774.2L631.2 775.9L629.5 780.9L627.8 775.9L622.4 774.2L627.8 772.5zM636 777.3L637.7 782.3L643.1 784L637.7 785.7L636 790.7L634.3 785.7L628.9 784L634.3 782.3zM641 774.3L642.7 779.3L648.1 781L642.7 782.7L641 787.7L639.3 782.7L633.9 781L639.3 779.3zM649.4 779.3L651.1 784.3L656.5 786L651.1 787.7L649.4 792.7L647.7 787.7L642.3 786L647.7 784.3zM657.6 779.3L659.3 784.3L664.7 786L659.3 787.7L657.6 792.7L655.9 787.7L650.5 786L655.9 784.3zM668 782.3L669.7 787.3L675.1 789L669.7 790.7L668 795.7L666.3 790.7L660.9 789L666.3 787.3zM678.4 785.7L680.1 790.7L685.5 792.4L680.1 794.1L678.4 799.1L676.7 794.1L671.3 792.4L676.7 790.7zM685.8 792.3L687.5 797.3L692.9 799L687.5 800.7L685.8 805.7L684.1 800.7L678.7 799L684.1 797.3zM694 792.3L695.7 797.3L701.1 799L695.7 800.7L694 805.7L692.3 800.7L686.9 799L692.3 797.3zM700 790.7L701.7 795.7L707.1 797.4L701.7 799.1L700 804.1L698.3 799.1L692.9 797.4L698.3 795.7zM707.4 782.3L709.1 787.3L714.5 789L709.1 790.7L707.4 795.7L705.7 790.7L700.3 789L705.7 787.3zM713 770.8L714.7 775.8L720.1 777.5L714.7 779.2L713 784.2L711.3 779.2L705.9 777.5L711.3 775.8zM720.6 772.5L722.3 777.5L727.7 779.2L722.3 780.9L720.6 785.9L718.9 780.9L713.5 779.2L718.9 777.5zM728 769.5L729.7 774.5L735.1 776.2L729.7 777.9L728 782.9L726.3 777.9L720.9 776.2L726.3 774.5zM736.9 727.3L738.6 732.3L744 734L738.6 735.7L736.9 740.7L735.2 735.7L729.8 734L735.2 732.3zM742 707.4L743.7 712.4L749.1 714.1L743.7 715.8L742 720.8L740.3 715.8L734.9 714.1L740.3 712.4zM749.1 692.6L750.8 697.6L756.2 699.3L750.8 701L749.1 706L747.4 701L742 699.3L747.4 697.6zM755.3 711.5L757 716.5L762.4 718.2L757 719.9L755.3 724.9L753.6 719.9L748.2 718.2L753.6 716.5zM761.4 698.8L763.1 703.8L768.5 705.5L763.1 707.2L761.4 712.2L759.7 707.2L754.3 705.5L759.7 703.8zM768.5 688.6L770.2 693.6L775.6 695.3L770.2 697L768.5 702L766.8 697L761.4 695.3L766.8 693.6zM774.6 713L776.3 718L781.7 719.7L776.3 721.4L774.6 726.4L772.9 721.4L767.5 719.7L772.9 718zM782.3 684.5L784 689.5L789.4 691.2L784 692.9L782.3 697.9L780.6 692.9L775.2 691.2L780.6 689.5zM789.4 691.6L791.1 696.6L796.5 698.3L791.1 700L789.4 705L787.7 700L782.3 698.3L787.7 696.6zM795 670.7L796.7 675.7L802.1 677.4L796.7 679.1L795 684.1L793.3 679.1L787.9 677.4L793.3 675.7z" fill="#00ffff"/>
<path d="M567.9 763.4a5.2 5.2 0 1 0 10.4 0a5.2 5.2 0 1 0 -10.4 0zM591.1 763.4a5.2 5.2 0 1 0 10.4 0a5.2 5.2 0 1 0 -10.4 0zM599.1 775a5.2 5.2 0 1 0 10.4 0a5.2 5.2 0 1 0 -10.4 0zM624.3 784a5.2 5.2 0 1 0 10.4 0a5.2 5.2 0 1 0 -10.4 0zM644.2 794a5.2 5.2 0 1 0 10.4 0a5.2 5.2 0 1 0 -10.4 0zM658.2 791a5.2 5.2 0 1 0 10.4 0a5.2 5.2 0 1 0 -10.4 0zM714.6 735.3a5.2 5.2 0 1 0 10.4 0a5.2 5.2 0 1 0 -10.4 0zM733 682.8a5.2 5.2 0 1 0 10.4 0a5.2 5.2 0 1 0 -10.4 0zM746.5 672a5.2 5.2 0 1 0 10.4 0a5.2 5.2 0 1 0 -10.4 0zM752.3 633a5.2 5.2 0 1 0 10.4 0a5.2 5.2 0 1 0 -10.4 0zM761.4 621.2a5.2 5.2 0 1 0 10.4 0a5.2 5.2 0 1 0 -10.4 0zM771 642.7a5.2 5.2 0 1 0 10.4 0a5.2 5.2 0 1 0 -10.4 0zM782.6 636a5.2 5.2 0 1 0 10.4 0a5.2 5.2 0 1 0 -10.4 0zM787.6 640a5.2 5.2 0 1 0 10.4 0a5.2 5.2 0 1 0 -10.4 0zM796.2 639.4a5.2 5.2 0 1 0 10.4 0a5.2 5.2 0 1 0 -10.4 0zM800.5 624.5a5.2 5.2 0 1 0 10.4 0a5.2 5.2 0 1 0 -10.4 0zM810.8 586.4a5.2 5.2 0 1 0 10.4 0a5.2 5.2 0 1 0 -10.4 0zM817.2 504.4a5.2 5.2 0 1 0 10.4 0a5.2 5.2 0 1 0 -10.4 0zM824.2 460a5.2 5.2 0 1 0 10.4 0a5.2 5.2 0 1 0 -10.4 0zM828.3 442.3a5.2 5.2 0 1 0 10.4 0a5.2 5.2 0 1 0 -10.4 0zM833.3 417.4a5.2 5.2 0 1 0 10.4 0a5.2 5.2 0 1 0 -10.4 0zM838.2 451a5.2 5.2 0 1 0 10.4 0a5.2 5.2 0 1 0 -10.4 0zM842.1 460.5a5.2 5.2 0 1 0 10.4 0a5.2 5.2 0 1 0 -10.4 0zM846.5 457.7a5.2 5.2 0 1 0 10.4 0a5.2 5.2 0 1 0 -10.4 0zM850.7 457.2a5.2 5.2 0 1 0 10.4 0a5.2 5.2 0 1 0 -10.4 0zM861.1 448.4a5.2 5.2 0 1 0 10.4 0a5.2 5.2 0 1 0 -10.4 0zM865.9 442.3a5.2 5.2 0 1 0 10.4 0a5.2 5.2 0 1 0 -10.4 0zM880.2 423.2a5.2 5.2 0 1 0 10.4 0a5.2 5.2 0 1 0 -10.4 0zM893.1 309a5.2 5.2 0 1 0 10.4 0a5.2 5.2 0 1 0 -10.4 0zM905.8 306a5.2 5.2 0 1 0 10.4 0a5.2 5.2 0 1 0 -10.4 0zM918.1 330.7a5.2 5.2 0 1 0 10.4 0a5.2 5.2 0 1 0 -10.4 0zM866.3 417.4V443.2M866.3 453.6V479.4M863.3 417.4h6M863.3 479.4h6M871.1 411.3V437.1M871.1 447.5V473.3M868.1 411.3h6M868.1 473.3h6M885.4 399.2V418M885.4 428.4V447.2M882.4 399.2h6M882.4 447.2h6M911 275.5V300.8M911 311.2V336.5M908 275.5h6M908 336.5h6M923.3 292.7V325.5M923.3 335.9V368.7M920.3 292.7h6M920.3 368.7h6" fill="none" stroke="#85c2a3" stroke-width="1.1"/>
<path d="M315.5 894V900M313.5 894.5h4M313.5 899.5h4M323.5 892V898M321.5 892.5h4M321.5 897.5h4M361.5 895V901M359.5 895.5h4M359.5 900.5h4M400.5 881V889M398.5 881.5h4M398.5 888.5h4M432.5 877V887M430.5 877.5h4M430.5 886.5h4M459.5 875V885M457.5 875.5h4M457.5 884.5h4M474.5 880V890M472.5 880.5h4M472.5 889.5h4M649.5 770V788M647.5 770.5h4M647.5 787.5h4M734.5 713V743M732.5 713.5h4M732.5 742.5h4M756.5 674V697M754.5 674.5h4M754.5 696.5h4M773.5 634V683M771.5 634.5h4M771.5 682.5h4" stroke="#0000ff" stroke-width="1" fill="none" shape-rendering="crispEdges"/>
<path d="M315 891.4l3.8 5.6l-3.8 5.6l-3.8 -5.6zM323 889l3.8 5.6l-3.8 5.6l-3.8 -5.6zM361.3 892.3l3.8 5.6l-3.8 5.6l-3.8 -5.6zM399.8 879.4l3.8 5.6l-3.8 5.6l-3.8 -5.6zM431.5 876.4l3.8 5.6l-3.8 5.6l-3.8 -5.6zM458.8 874.7l3.8 5.6l-3.8 5.6l-3.8 -5.6zM473.7 878.9l3.8 5.6l-3.8 5.6l-3.8 -5.6zM649.4 773.6l3.8 5.6l-3.8 5.6l-3.8 -5.6zM733.6 722.4l3.8 5.6l-3.8 5.6l-3.8 -5.6zM756.3 680l3.8 5.6l-3.8 5.6l-3.8 -5.6zM772.6 653l3.8 5.6l-3.8 5.6l-3.8 -5.6z" fill="#0000ff"/>
<path d="M468.5 877V885M466.5 877.5h4M466.5 884.5h4M484.5 874V882M482.5 874.5h4M482.5 881.5h4M496.5 875V883M494.5 875.5h4M494.5 882.5h4M505.5 876V884M503.5 876.5h4M503.5 883.5h4M518.5 876V884M516.5 876.5h4M516.5 883.5h4M525.5 875V883M523.5 875.5h4M523.5 882.5h4M617.5 736V756M615.5 736.5h4M615.5 755.5h4M639.5 757V779M637.5 757.5h4M637.5 778.5h4M650.5 763V783M648.5 763.5h4M648.5 782.5h4M661.5 763V785M659.5 763.5h4M659.5 784.5h4M671.5 764V788M669.5 764.5h4M669.5 787.5h4M681.5 763V785M679.5 763.5h4M679.5 784.5h4M688.5 768V790M686.5 768.5h4M686.5 789.5h4" stroke="#ff00ff" stroke-width="1" fill="none" shape-rendering="crispEdges"/>
<path d="M462.5 881.2a5 5 0 1 0 10 0a5 5 0 1 0 -10 0zM479 878a5 5 0 1 0 10 0a5 5 0 1 0 -10 0zM491 879.1a5 5 0 1 0 10 0a5 5 0 1 0 -10 0zM500.3 880.2a5 5 0 1 0 10 0a5 5 0 1 0 -10 0zM512.5 880.2a5 5 0 1 0 10 0a5 5 0 1 0 -10 0zM519.6 879.1a5 5 0 1 0 10 0a5 5 0 1 0 -10 0zM612 746a5 5 0 1 0 10 0a5 5 0 1 0 -10 0zM634.4 768.4a5 5 0 1 0 10 0a5 5 0 1 0 -10 0zM645.2 772.6a5 5 0 1 0 10 0a5 5 0 1 0 -10 0zM656 774.2a5 5 0 1 0 10 0a5 5 0 1 0 -10 0zM666 775.9a5 5 0 1 0 10 0a5 5 0 1 0 -10 0zM675.8 774a5 5 0 1 0 10 0a5 5 0 1 0 -10 0zM683 779a5 5 0 1 0 10 0a5 5 0 1 0 -10 0z" fill="#ff00ff"/>
<path d="M173.5 964V965M171.5 964.5h4M171.5 964.5h4M168 965.5H178M168.5 963.5v4M177.5 963.5v4M183.5 964V966M181.5 964.5h4M181.5 965.5h4M178 965.5H188M178.5 963.5v4M187.5 963.5v4M193.5 964V966M191.5 964.5h4M191.5 965.5h4M188 965.5H197M188.5 963.5v4M196.5 963.5v4M201.5 964V966M199.5 964.5h4M199.5 965.5h4M197 965.5H206M197.5 963.5v4M205.5 963.5v4M212.5 962V964M210.5 962.5h4M210.5 963.5h4M207 963.5H216M207.5 961.5v4M215.5 961.5v4M222.5 955V957M220.5 955.5h4M220.5 956.5h4M217 956.5H227M217.5 954.5v4M226.5 954.5v4M230.5 939V943M228.5 939.5h4M228.5 942.5h4M226 941.5H235M226.5 939.5v4M234.5 939.5v4M241.5 927V932M239.5 927.5h4M239.5 931.5h4M236 929.5H246M236.5 927.5v4M245.5 927.5v4M251.5 919V924M249.5 919.5h4M249.5 923.5h4M246 921.5H256M246.5 919.5v4M255.5 919.5v4M260.5 903V908M258.5 903.5h4M258.5 907.5h4M255 906.5H265M255.5 904.5v4M264.5 904.5v4M269.5 891V896M267.5 891.5h4M267.5 895.5h4M265 894.5H274M265.5 892.5v4M273.5 892.5v4M280.5 908V913M278.5 908.5h4M278.5 912.5h4M275 911.5H284M275.5 909.5v4M283.5 909.5v4M289.5 912V918M287.5 912.5h4M287.5 917.5h4M284 915.5H294M284.5 913.5v4M293.5 913.5v4M299.5 903V909M297.5 903.5h4M297.5 908.5h4M294 906.5H304M294.5 904.5v4M303.5 904.5v4M309.5 890V896M307.5 890.5h4M307.5 895.5h4M304 893.5H314M304.5 891.5v4M313.5 891.5v4M317.5 887V893M315.5 887.5h4M315.5 892.5h4M313 890.5H322M313.5 888.5v4M321.5 888.5v4M327.5 883V889M325.5 883.5h4M325.5 888.5h4M323 886.5H332M323.5 884.5v4M331.5 884.5v4M337.5 881V887M335.5 881.5h4M335.5 886.5h4M332 884.5H342M332.5 882.5v4M341.5 882.5v4M347.5 886V893M345.5 886.5h4M345.5 892.5h4M342 890.5H352M342.5 888.5v4M351.5 888.5v4M357.5 886V893M355.5 886.5h4M355.5 892.5h4M352 890.5H362M352.5 888.5v4M361.5 888.5v4M366.5 891V898M364.5 891.5h4M364.5 897.5h4M361 895.5H371M361.5 893.5v4M370.5 893.5v4M375.5 886V893M373.5 886.5h4M373.5 892.5h4M371 890.5H380M371.5 888.5v4M379.5 888.5v4M385.5 881V888M383.5 881.5h4M383.5 887.5h4M381 885.5H390M381.5 883.5v4M389.5 883.5v4M395.5 877V885M393.5 877.5h4M393.5 884.5h4M390 881.5H400M390.5 879.5v4M399.5 879.5v4M405.5 874V886M403.5 874.5h4M403.5 885.5h4M400 880.5H410M400.5 878.5v4M409.5 878.5v4M415.5 876V889M413.5 876.5h4M413.5 888.5h4M410 882.5H420M410.5 880.5v4M419.5 880.5v4M424.5 880V893M422.5 880.5h4M422.5 892.5h4M420 887.5H429M420.5 885.5v4M428.5 885.5v4M434.5 867V880M432.5 867.5h4M432.5 879.5h4M429 874.5H439M429.5 872.5v4M438.5 872.5v4M444.5 871V884M442.5 871.5h4M442.5 883.5h4M439 878.5H449M439.5 876.5v4M448.5 876.5v4M453.5 869V883M451.5 869.5h4M451.5 882.5h4M448 876.5H458M448.5 874.5v4M457.5 874.5v4M463.5 870V884M461.5 870.5h4M461.5 883.5h4M458 877.5H467M458.5 875.5v4M466.5 875.5v4M473.5 871V884M471.5 871.5h4M471.5 883.5h4M468 878.5H478M468.5 876.5v4M477.5 876.5v4M482.5 873V887M480.5 873.5h4M480.5 886.5h4M477 880.5H487M477.5 878.5v4M486.5 878.5v4M492.5 867V881M490.5 867.5h4M490.5 880.5h4M487 874.5H497M487.5 872.5v4M496.5 872.5v4M502.5 864V878M500.5 864.5h4M500.5 877.5h4M497 871.5H506M497.5 869.5v4M505.5 869.5v4M511.5 869V883M509.5 869.5h4M509.5 882.5h4M506 876.5H516M506.5 874.5v4M515.5 874.5v4M521.5 880V895M519.5 880.5h4M519.5 894.5h4M516 888.5H526M516.5 886.5v4M525.5 886.5v4M531.5 870V885M529.5 870.5h4M529.5 884.5h4M526 878.5H536M526.5 876.5v4M535.5 876.5v4M540.5 868V883M538.5 868.5h4M538.5 882.5h4M536 876.5H545M536.5 874.5v4M544.5 874.5v4M550.5 841V856M548.5 841.5h4M548.5 855.5h4M545 849.5H555M545.5 847.5v4M554.5 847.5v4M560.5 794V812M558.5 794.5h4M558.5 811.5h4M555 803.5H565M555.5 801.5v4M564.5 801.5v4M569.5 745V763M567.5 745.5h4M567.5 762.5h4M564 754.5H574M564.5 752.5v4M573.5 752.5v4M579.5 718V738M577.5 718.5h4M577.5 737.5h4M574 728.5H583M574.5 726.5v4M582.5 726.5v4M588.5 712V733M586.5 712.5h4M586.5 732.5h4M583 723.5H593M583.5 721.5v4M592.5 721.5v4M598.5 717V739M596.5 717.5h4M596.5 738.5h4M593 728.5H603M593.5 726.5v4M602.5 726.5v4M608.5 738V761M606.5 738.5h4M606.5 760.5h4M603 750.5H612M603.5 748.5v4M611.5 748.5v4M617.5 742V766M615.5 742.5h4M615.5 765.5h4M612 754.5H622M612.5 752.5v4M621.5 752.5v4M627.5 742V767M625.5 742.5h4M625.5 766.5h4M622 755.5H632M622.5 753.5v4M631.5 753.5v4M637.5 745V772M635.5 745.5h4M635.5 771.5h4M632 758.5H641M632.5 756.5v4M640.5 756.5v4M646.5 755V783M644.5 755.5h4M644.5 782.5h4M641 769.5H651M641.5 767.5v4M650.5 767.5v4M656.5 745V774M654.5 745.5h4M654.5 773.5h4M651 760.5H661M651.5 758.5v4M660.5 758.5v4M666.5 755V784M664.5 755.5h4M664.5 783.5h4M661 769.5H671M661.5 767.5v4M670.5 767.5v4M675.5 764V793M673.5 764.5h4M673.5 792.5h4M670 778.5H680M670.5 776.5v4M679.5 776.5v4M686.5 771V801M684.5 771.5h4M684.5 800.5h4M681 786.5H690M681.5 784.5v4M689.5 784.5v4M695.5 773V802M693.5 773.5h4M693.5 801.5h4M690 788.5H700M690.5 786.5v4M699.5 786.5v4M704.5 770V801M702.5 770.5h4M702.5 800.5h4M699 786.5H709M699.5 784.5v4M708.5 784.5v4M714.5 740V774M712.5 740.5h4M712.5 773.5h4M709 757.5H718M709.5 755.5v4M717.5 755.5v4M724.5 723V760M722.5 723.5h4M722.5 759.5h4M719 741.5H728M719.5 739.5v4M727.5 739.5v4M733.5 707V746M731.5 707.5h4M731.5 745.5h4M728 726.5H738M728.5 724.5v4M737.5 724.5v4M743.5 675V717M741.5 675.5h4M741.5 716.5h4M738 696.5H748M738.5 694.5v4M747.5 694.5v4M753.5 661V704M751.5 661.5h4M751.5 703.5h4M748 683.5H758M748.5 681.5v4M757.5 681.5v4M762.5 645V690M760.5 645.5h4M760.5 689.5h4M758 667.5H767M758.5 665.5v4M766.5 665.5v4M772.5 645V692M770.5 645.5h4M770.5 691.5h4M768 669.5H777M768.5 667.5v4M776.5 667.5v4M782.5 645V693M780.5 645.5h4M780.5 692.5h4M777 669.5H787M777.5 667.5v4M786.5 667.5v4M791.5 633V682M789.5 633.5h4M789.5 681.5h4M786 658.5H796M786.5 656.5v4M795.5 656.5v4M801.5 576V626M799.5 576.5h4M799.5 625.5h4M796 601.5H806M796.5 599.5v4M805.5 599.5v4M811.5 562V613M809.5 562.5h4M809.5 612.5h4M806 587.5H816M806.5 585.5v4M815.5 585.5v4M820.5 532V583M818.5 532.5h4M818.5 582.5h4M816 558.5H825M816.5 556.5v4M824.5 556.5v4M830.5 529V582M828.5 529.5h4M828.5 581.5h4M825 555.5H835M825.5 553.5v4M834.5 553.5v4M840.5 515V568M838.5 515.5h4M838.5 567.5h4M835 541.5H845M835.5 539.5v4M844.5 539.5v4M849.5 510V564M847.5 510.5h4M847.5 563.5h4M844 537.5H854M844.5 535.5v4M853.5 535.5v4M859.5 495V549M857.5 495.5h4M857.5 548.5h4M854 522.5H864M854.5 520.5v4M863.5 520.5v4M868.5 491V545M866.5 491.5h4M866.5 544.5h4M864 518.5H873M864.5 516.5v4M872.5 516.5v4M878.5 468V521M876.5 468.5h4M876.5 520.5h4M873 494.5H882M873.5 492.5v4M881.5 492.5v4M888.5 447V500M886.5 447.5h4M886.5 499.5h4M883 474.5H892M883.5 472.5v4M891.5 472.5v4M897.5 447V499M895.5 447.5h4M895.5 498.5h4M892 473.5H902M892.5 471.5v4M901.5 471.5v4M907.5 415V468M905.5 415.5h4M905.5 467.5h4M902 441.5H912M902.5 439.5v4M911.5 439.5v4M917.5 432V484M915.5 432.5h4M915.5 483.5h4M912 458.5H922M912.5 456.5v4M921.5 456.5v4M926.5 415V468M924.5 415.5h4M924.5 467.5h4M922 441.5H931M922.5 439.5v4M930.5 439.5v4M936.5 392V446M934.5 392.5h4M934.5 445.5h4M931 419.5H941M931.5 417.5v4M940.5 417.5v4M946.5 389V445M944.5 389.5h4M944.5 444.5h4M941 417.5H950M941.5 415.5v4M949.5 415.5v4M955.5 377V435M953.5 377.5h4M953.5 434.5h4M950 406.5H960M950.5 404.5v4M959.5 404.5v4M965.5 367V428M963.5 367.5h4M963.5 427.5h4M960 397.5H970M960.5 395.5v4M969.5 395.5v4M975.5 376V439M973.5 376.5h4M973.5 438.5h4M970 408.5H980M970.5 406.5v4M979.5 406.5v4M984.5 368V432M982.5 368.5h4M982.5 431.5h4M980 400.5H989M980.5 398.5v4M988.5 398.5v4M994.5 362V428M992.5 362.5h4M992.5 427.5h4M990 395.5H999M990.5 393.5v4M998.5 393.5v4M1004.5 372V438M1002.5 372.5h4M1002.5 437.5h4M999 405.5H1009M999.5 403.5v4M1008.5 403.5v4M1013.5 346V414M1011.5 346.5h4M1011.5 413.5h4M1008 380.5H1018M1008.5 378.5v4M1017.5 378.5v4M1023.5 330V402M1021.5 330.5h4M1021.5 401.5h4M1018 366.5H1028M1018.5 364.5v4M1027.5 364.5v4M1033.5 334V409M1031.5 334.5h4M1031.5 408.5h4M1028 371.5H1038M1028.5 369.5v4M1037.5 369.5v4M1042.5 342V419M1040.5 342.5h4M1040.5 418.5h4M1037 380.5H1047M1037.5 378.5v4M1046.5 378.5v4M1052.5 339V419M1050.5 339.5h4M1050.5 418.5h4M1048 379.5H1057M1048.5 377.5v4M1056.5 377.5v4M1062.5 353V433M1060.5 353.5h4M1060.5 432.5h4M1057 393.5H1067M1057.5 391.5v4M1066.5 391.5v4M1071.5 352V433M1069.5 352.5h4M1069.5 432.5h4M1066 392.5H1076M1066.5 390.5v4M1075.5 390.5v4M1081.5 351V433M1079.5 351.5h4M1079.5 432.5h4M1076 392.5H1086M1076.5 390.5v4M1085.5 390.5v4M1091.5 328V420M1089.5 328.5h4M1089.5 419.5h4M1086 374.5H1096M1086.5 372.5v4M1095.5 372.5v4M1101.5 338V431M1099.5 338.5h4M1099.5 430.5h4M1096 385.5H1106M1096.5 383.5v4M1105.5 383.5v4M1110.5 354V448M1108.5 354.5h4M1108.5 447.5h4M1105 401.5H1115M1105.5 399.5v4M1114.5 399.5v4M1119.5 367V461M1117.5 367.5h4M1117.5 460.5h4M1114 414.5H1124M1114.5 412.5v4M1123.5 412.5v4M1129.5 361V463M1127.5 361.5h4M1127.5 462.5h4M1124 412.5H1134M1124.5 410.5v4M1133.5 410.5v4M1143.5 402V451M1141.5 402.5h4M1141.5 450.5h4M1133 427.5H1154M1133.5 425.5v4M1153.5 425.5v4M1163.5 410V460M1161.5 410.5h4M1161.5 459.5h4M1153 435.5H1174M1153.5 433.5v4M1173.5 433.5v4M1182.5 423V487M1180.5 423.5h4M1180.5 486.5h4M1172 455.5H1192M1172.5 453.5v4M1191.5 453.5v4M1202.5 424V496M1200.5 424.5h4M1200.5 495.5h4M1191 460.5H1212M1191.5 458.5v4M1211.5 458.5v4M1221.5 418V496M1219.5 418.5h4M1219.5 495.5h4M1211 457.5H1232M1211.5 455.5v4M1231.5 455.5v4M1240.5 413V519M1238.5 413.5h4M1238.5 518.5h4M1230 466.5H1250M1230.5 464.5v4M1249.5 464.5v4M1260.5 396V518M1258.5 396.5h4M1258.5 517.5h4M1249 457.5H1270M1249.5 455.5v4M1269.5 455.5v4M1278.5 393V549M1276.5 393.5h4M1276.5 548.5h4M1268 471.5H1289M1268.5 469.5v4M1288.5 469.5v4M1314.5 369V477M1312.5 369.5h4M1312.5 476.5h4M1290 423.5H1339M1290.5 421.5v4M1338.5 421.5v4M1362.5 304V489M1360.5 304.5h4M1360.5 488.5h4M1338 396.5H1386M1338.5 394.5v4M1385.5 394.5v4" stroke="#000" stroke-width="1" fill="none" shape-rendering="crispEdges"/>
<path d="M169 961h8v8h-8zM179 961h8v8h-8zM189 961h8v8h-8zM197 961h8v8h-8zM208 959h8v8h-8zM218 952h8v8h-8zM226 937h8v8h-8zM237 925h8v8h-8zM247 917h8v8h-8zM256 902h8v8h-8zM265 890h8v8h-8zM276 907h8v8h-8zM285 911h8v8h-8zM295 902h8v8h-8zM305 889h8v8h-8zM313 886h8v8h-8zM323 882h8v8h-8zM333 880h8v8h-8zM343 886h8v8h-8zM353 886h8v8h-8zM362 891h8v8h-8zM371 886h8v8h-8zM381 881h8v8h-8zM391 877h8v8h-8zM401 876h8v8h-8zM411 878h8v8h-8zM420 883h8v8h-8zM430 870h8v8h-8zM440 874h8v8h-8zM449 872h8v8h-8zM459 873h8v8h-8zM469 874h8v8h-8zM478 876h8v8h-8zM488 870h8v8h-8zM498 867h8v8h-8zM507 872h8v8h-8zM517 884h8v8h-8zM527 874h8v8h-8zM536 872h8v8h-8zM546 845h8v8h-8zM556 799h8v8h-8zM565 750h8v8h-8zM575 724h8v8h-8zM584 719h8v8h-8zM594 724h8v8h-8zM604 746h8v8h-8zM613 750h8v8h-8zM623 751h8v8h-8zM633 754h8v8h-8zM642 765h8v8h-8zM652 756h8v8h-8zM662 765h8v8h-8zM671 774h8v8h-8zM682 782h8v8h-8zM691 784h8v8h-8zM700 782h8v8h-8zM710 753h8v8h-8zM720 737h8v8h-8zM729 722h8v8h-8zM739 692h8v8h-8zM749 679h8v8h-8zM758 663h8v8h-8zM768 665h8v8h-8zM778 665h8v8h-8zM787 654h8v8h-8zM797 597h8v8h-8zM807 583h8v8h-8zM816 554h8v8h-8zM826 551h8v8h-8zM836 537h8v8h-8zM845 533h8v8h-8zM855 518h8v8h-8zM864 514h8v8h-8zM874 490h8v8h-8zM884 470h8v8h-8zM893 469h8v8h-8zM903 437h8v8h-8zM913 454h8v8h-8zM922 437h8v8h-8zM932 415h8v8h-8zM942 413h8v8h-8zM951 402h8v8h-8zM961 393h8v8h-8zM971 404h8v8h-8zM980 396h8v8h-8zM990 391h8v8h-8zM1000 401h8v8h-8zM1009 376h8v8h-8zM1019 362h8v8h-8zM1029 367h8v8h-8zM1038 376h8v8h-8zM1048 375h8v8h-8zM1058 389h8v8h-8zM1067 388h8v8h-8zM1077 388h8v8h-8zM1087 370h8v8h-8zM1097 381h8v8h-8zM1106 397h8v8h-8zM1115 410h8v8h-8zM1125 408h8v8h-8zM1139 423h8v8h-8zM1159 431h8v8h-8zM1178 451h8v8h-8zM1198 456h8v8h-8zM1217 453h8v8h-8zM1236 462h8v8h-8zM1256 453h8v8h-8zM1274 467h8v8h-8zM1310 419h8v8h-8zM1358 392h8v8h-8z" fill="#000" shape-rendering="crispEdges"/>
<path d="M661 750V770M659 751h4M659 769h4M651 760H671M652 758v4M670 758v4M681 768V792M679 769h4M679 791h4M672 780H690M673 778v4M689 778v4M698 774V798M696 775h4M696 797h4M690 786H706M691 784v4M705 784v4M714 744V774M712 745h4M712 773h4M706 759H722M707 757v4M721 757v4M729 715V746M727 716h4M727 745h4M722 730H736M723 728v4M735 728v4M743 687V721M741 688h4M741 720h4M736 704H750M737 702v4M749 702v4M756 646V685M754 647h4M754 684h4M750 665H763M751 663v4M762 663v4M769 628V674M767 629h4M767 673h4M763 651H776M764 649v4M775 649v4M780 628V676M778 629h4M778 675h4M774 652H786M775 650v4M785 650v4M791 597V655M789 598h4M789 654h4M786 626H796M787 624v4M795 624v4M816 555V592M814 556h4M814 591h4M806 573H826M807 571v4M825 571v4M835 531V571M833 532h4M833 570h4M825 551H845M826 549v4M844 549v4M854 494V542M852 495h4M852 541h4M844 518H864M845 516v4M863 516v4M873 461V511M871 462h4M871 510h4M863 486H884M864 484v4M883 484v4M893 423V477M891 424h4M891 476h4M882 450H903M883 448v4M902 448v4M912 439V493M910 440h4M910 492h4M902 466H922M903 464v4M921 464v4M931 408V467M929 409h4M929 466h4M921 437H941M922 435v4M940 435v4M951 355V429M949 356h4M949 428h4M941 392H961M942 390v4M960 390v4M970 346V430M968 347h4M968 429h4M960 388H980M961 386v4M979 386v4M989 343V436M987 344h4M987 435h4M979 389H1000M980 387v4M999 387v4M1009 324V444M1007 325h4M1007 443h4M999 384H1019M1000 382v4M1018 382v4M1028 287V423M1026 288h4M1026 422h4M1018 355H1038M1019 353v4M1037 353v4M1047 283V436M1045 284h4M1045 435h4M1037 360H1058M1038 358v4M1057 358v4" stroke="#ff0000" stroke-width="2" fill="none" shape-rendering="crispEdges"/>
<path d="M656.7 764.3h8.6l-4.3 -8.6zM676.7 784.3h8.6l-4.3 -8.6zM693.7 790.3h8.6l-4.3 -8.6zM709.7 763.3h8.6l-4.3 -8.6zM724.7 734.3h8.6l-4.3 -8.6zM738.7 708.3h8.6l-4.3 -8.6zM751.7 669.3h8.6l-4.3 -8.6zM764.7 655.3h8.6l-4.3 -8.6zM775.7 656.3h8.6l-4.3 -8.6zM786.7 630.3h8.6l-4.3 -8.6zM811.7 577.3h8.6l-4.3 -8.6zM830.7 555.3h8.6l-4.3 -8.6zM849.7 522.3h8.6l-4.3 -8.6zM868.7 490.3h8.6l-4.3 -8.6zM888.7 454.3h8.6l-4.3 -8.6zM907.7 470.3h8.6l-4.3 -8.6zM926.7 441.3h8.6l-4.3 -8.6zM946.7 396.3h8.6l-4.3 -8.6zM965.7 392.3h8.6l-4.3 -8.6zM984.7 393.3h8.6l-4.3 -8.6zM1004.7 388.3h8.6l-4.3 -8.6zM1023.7 359.3h8.6l-4.3 -8.6zM1042.7 364.3h8.6l-4.3 -8.6z" fill="#ff0000"/>
</g>
<g font-family="'Liberation Sans', Arial, Helvetica, sans-serif" fill="#000">
<text transform="translate(162.5 985.8) scale(0.97 1)" font-size="51.3" text-anchor="end">0</text>
<text transform="translate(162.5 861.8) scale(0.97 1)" font-size="51.3" text-anchor="end">0.2</text>
<text transform="translate(162.5 738.8) scale(0.97 1)" font-size="51.3" text-anchor="end">0.4</text>
<text transform="translate(162.5 614.8) scale(0.97 1)" font-size="51.3" text-anchor="end">0.6</text>
<text transform="translate(162.5 491.8) scale(0.97 1)" font-size="51.3" text-anchor="end">0.8</text>
<text transform="translate(162.5 367.8) scale(0.97 1)" font-size="51.3" text-anchor="end">1</text>
<text transform="translate(162.5 244.8) scale(0.97 1)" font-size="51.3" text-anchor="end">1.2</text>
<text transform="translate(162.5 121.8) scale(0.97 1)" font-size="51.3" text-anchor="end">1.4</text>
<text transform="translate(175 1033.8) scale(0.97 1)" font-size="51.3" text-anchor="middle">1</text>
<text transform="translate(652.5 1034.4) scale(0.97 1)" font-size="51.3" text-anchor="middle">10</text>
<text transform="translate(1138.3 1032.6) scale(0.92 1)" font-size="51.3" text-anchor="middle">100</text>
<text transform="translate(1367 1033.4) scale(0.92 1)" font-size="51.3" text-anchor="middle">300</text>
<text transform="translate(1430.7 1089.9) scale(0.948 1)" font-size="52.4" text-anchor="end">En (MeV)</text>
<text transform="translate(57 100.5) rotate(-90) scale(0.965 1)" font-size="51" text-anchor="end">σ (b)</text>
</g>
<rect x="201.5" y="24.5" width="678" height="381" fill="#fff" stroke="#000" stroke-width="1" shape-rendering="crispEdges"/>
<g font-family="'Liberation Sans', Arial, Helvetica, sans-serif" fill="#000">
<text transform="translate(369.7 53.9) scale(0.972 1)" font-size="34.0" text-anchor="start">This work (relative to 235U(n,f))</text>
<text transform="translate(369.7 96.28) scale(0.972 1)" font-size="34.0" text-anchor="start">This work (relative to H(n,n))</text>
<text transform="translate(369.7 138.65) scale(0.972 1)" font-size="34.0" text-anchor="start">Gledenov (2022)</text>
<text transform="translate(369.7 181.03) scale(0.972 1)" font-size="34.0" text-anchor="start">Michalopoulou (2021)</text>
<text transform="translate(369.7 223.4) scale(0.972 1)" font-size="34.0" text-anchor="start">Shcherbakov (2002)</text>
<text transform="translate(369.7 265.77) scale(0.972 1)" font-size="34.0" text-anchor="start">Lisowski (1988)</text>
<text transform="translate(369.7 308.15) scale(0.972 1)" font-size="34.0" text-anchor="start">Meadows (1983)</text>
<text transform="translate(369.7 350.52) scale(0.972 1)" font-size="34.0" text-anchor="start">Blons (1975)</text>
<text transform="translate(369.7 392.9) scale(0.972 1)" font-size="34.0" text-anchor="start">Pankratov (1963)</text>
</g>
<path d="M281 41h8v8h-8z" fill="#000"/>
<path d="M280.6 92.2h9.2l-4.6 -9z" fill="#ff0000"/>
<path d="M280.2 130a5 5 0 1 0 10 0a5 5 0 1 0 -10 0z" fill="#ff00ff"/>
<path d="M285.2 166.7l3.8 5.6l-3.8 5.6l-3.8 -5.6z" fill="#0000ff"/>
<path d="M280.2 209.6h10l-5 10z" fill="#ffcc00"/>
<path d="M285.2 250.2L286.9 255.2L292.3 256.9L286.9 258.6L285.2 263.6L283.5 258.6L278.1 256.9L283.5 255.2z" fill="#00ffff"/>
<path d="M280.2 294.2h10l-5 10z" fill="#00ff00"/>
<path d="M281.5 338.5h8v8h-8z" fill="none" stroke="#876657" stroke-width="1" shape-rendering="crispEdges"/>
<path d="M280 383.8a5.2 5.2 0 1 0 10.4 0a5.2 5.2 0 1 0 -10.4 0z" fill="none" stroke="#85c2a3" stroke-width="1.1"/>
</svg>
</body>
</html>
